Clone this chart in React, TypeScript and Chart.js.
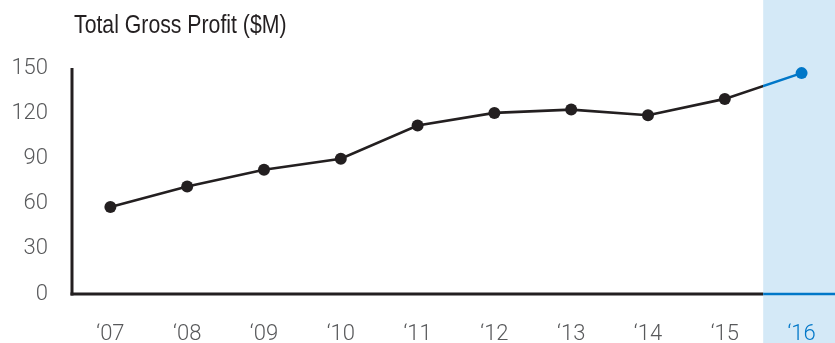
import { useEffect, useRef } from "react";
import { Chart, registerables } from "chart.js";

Chart.register(...registerables);

// Fiscal years shown on the category axis
const yearLabels = ["‘07", "‘08", "‘09", "‘10", "‘11", "‘12", "‘13", "‘14", "‘15", "‘16"];
// Total gross profit per year, $M
const grossProfit = [57.7, 71.4, 82.5, 89.8, 111.8, 120.2, 122.4, 118.6, 129.5, 146.6];
// Value axis ticks
const yTicks = [0, 30, 60, 90, 120, 150];
// Year that gets the highlighted column
const highlightIndex = 9;
const titleText = "Total Gross Profit ($M)";

const INK = "#231f20";
const BLUE = "#0077c8";
const BAND = "#d4e9f7";
const TICK_GREY = "#58595b";
const TICK_FONT = "Roboto, 'Liberation Sans', sans-serif";
const TITLE_FONT = "'Liberation Sans', Arial, sans-serif";

const WIDTH = 835;
const HEIGHT = 343;

// Shaded column behind the highlighted year, the two axis lines and the title
const highlightPlugin = {
  id: "highlightBand",
  beforeDraw(chart: any) {
    const { ctx, scales } = chart;
    const xb = scales.x.getPixelForValue(highlightIndex - 0.5);
    ctx.save();
    ctx.fillStyle = BAND;
    ctx.fillRect(xb, 0, chart.width - xb, chart.height);
    ctx.restore();
  },
  beforeDatasetsDraw(chart: any) {
    const { ctx, chartArea, scales } = chart;
    const xb = scales.x.getPixelForValue(highlightIndex - 0.5);
    const left = chartArea.left;
    const bottom = chartArea.bottom;
    ctx.save();
    ctx.lineCap = "butt";
    // value axis
    ctx.strokeStyle = INK;
    ctx.lineWidth = 3;
    ctx.beginPath();
    ctx.moveTo(left, chartArea.top);
    ctx.lineTo(left, bottom + 1.5);
    ctx.stroke();
    // baseline, black up to the highlighted column
    ctx.beginPath();
    ctx.moveTo(left - 1.5, bottom);
    ctx.lineTo(xb, bottom);
    ctx.stroke();
    // baseline inside the highlighted column
    ctx.strokeStyle = BLUE;
    ctx.lineWidth = 2.5;
    ctx.beginPath();
    ctx.moveTo(xb, bottom);
    ctx.lineTo(chart.width, bottom);
    ctx.stroke();
    ctx.restore();
  },
  // condensed chart title above the plot
  afterDraw(chart: any) {
    const { ctx, chartArea } = chart;
    const squeeze = 0.85;
    ctx.save();
    ctx.font = `25px ${TITLE_FONT}`;
    ctx.fillStyle = INK;
    ctx.textAlign = "left";
    ctx.textBaseline = "alphabetic";
    ctx.scale(squeeze, 1);
    ctx.fillText(titleText, (chartArea.left + 2) / squeeze, 33);
    ctx.restore();
  },
};

export default function App() {
  const canvasRef = useRef<HTMLCanvasElement | null>(null);

  useEffect(() => {
    const canvas = canvasRef.current;
    if (!canvas) return;

    // stroke turns blue where the line enters the highlighted column
    const lineColor = (context: any) => {
      const chart = context.chart;
      const { chartArea, scales } = chart;
      if (!chartArea || !scales.x) return INK;
      const xb = scales.x.getPixelForValue(highlightIndex - 0.5);
      const g = chart.ctx.createLinearGradient(0, 0, chart.width, 0);
      const t = Math.min(Math.max(xb / chart.width, 0), 1);
      g.addColorStop(0, INK);
      g.addColorStop(t, INK);
      g.addColorStop(t, BLUE);
      g.addColorStop(1, BLUE);
      return g;
    };

    const pointColors = grossProfit.map((_, i) => (i === highlightIndex ? BLUE : INK));

    const chart = new Chart(canvas, {
      type: "line",
      data: {
        datasets: [
          {
            label: titleText,
            data: grossProfit.map((v, i) => ({ x: i, y: v })),
            borderColor: lineColor,
            borderWidth: 2.6,
            pointRadius: 6,
            pointBorderWidth: 0,
            pointBackgroundColor: pointColors,
            pointBorderColor: pointColors,
            tension: 0,
            fill: false,
            clip: false,
          },
        ],
      },
      options: {
        responsive: false,
        devicePixelRatio: 1,
        animation: false,
        events: [],
        layout: { autoPadding: false, padding: { top: 68, right: 0, bottom: 0, left: 0 } },
        plugins: {
          legend: { display: false },
          tooltip: { enabled: false },
          title: { display: false },
        },
        scales: {
          x: {
            type: "linear",
            min: -0.5,
            max: 9.435,
            // invisible tick marks push the year labels down without adding side padding
            grid: { display: false, drawTicks: true, tickLength: 27 },
            border: { display: false },
            afterBuildTicks: (scale: any) => {
              scale.ticks = yearLabels.map((_, i) => ({ value: i }));
            },
            afterFit: (scale: any) => {
              scale.height = 49;
              scale.paddingLeft = 0;
              scale.paddingRight = 0;
            },
            ticks: {
              autoSkip: false,
              maxRotation: 0,
              padding: 0,
              font: { family: TICK_FONT, size: 22, weight: "300" },
              color: (ctx: any) => (ctx.index === highlightIndex ? BLUE : TICK_GREY),
              callback: (value: any) => yearLabels[Math.round(Number(value))] ?? "",
            },
          },
          y: {
            type: "linear",
            min: yTicks[0],
            max: yTicks[yTicks.length - 1],
            grid: { display: false, drawTicks: false },
            border: { display: false },
            afterBuildTicks: (scale: any) => {
              scale.ticks = yTicks.map((v) => ({ value: v }));
            },
            afterFit: (scale: any) => {
              scale.width = 72;
            },
            ticks: {
              padding: 24,
              font: { family: TICK_FONT, size: 22, weight: "300" },
              color: TICK_GREY,
            },
          },
        },
      },
      plugins: [highlightPlugin],
    });

    return () => chart.destroy();
  }, []);

  return (
    <div style={{ position: "fixed", left: 0, top: 0, width: WIDTH, height: HEIGHT, background: "#fff" }}>
      <canvas ref={canvasRef} width={WIDTH} height={HEIGHT} style={{ display: "block" }} />
    </div>
  );
}
